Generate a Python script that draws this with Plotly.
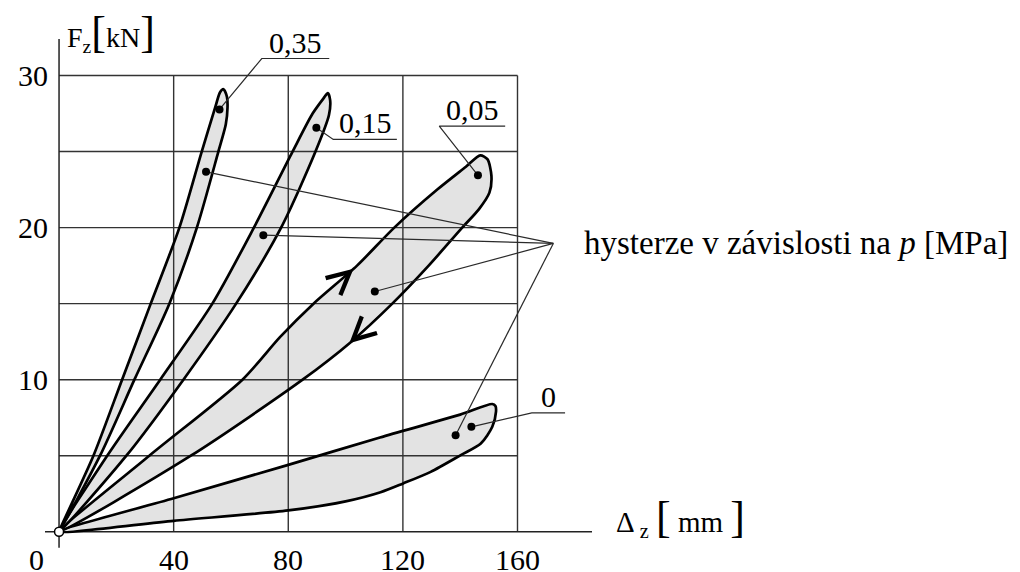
import numpy as np
import plotly.graph_objects as go

# ---------------- data ----------------
# p = 0.35 MPa
p035_load_x = [0, 12.0, 22.0, 32.0, 42.0, 49.8, 54.5, 56.2, 57.4]
p035_load_y = [0, 5, 10, 15, 20, 25, 27.9, 28.9, 29.1]
p035_unload_x = [58.6, 58.8, 58.2, 55.6, 48.1, 38.5, 26.3, 14.3, 0]
p035_unload_y = [28.6, 27.9, 26.8, 25, 20, 15, 10, 5, 0]

# p = 0.15 MPa
p015_load_x = [0, 16.8, 35.3, 53.5, 68.0, 81.5, 88.5, 92.3, 93.8]
p015_load_y = [0, 5, 10, 15, 20, 25, 27.5, 28.5, 28.85]
p015_unload_x = [94.6, 94.2, 89.5, 77.5, 61.8, 43.4, 23.5, 0]
p015_unload_y = [28.4, 27.4, 25, 20, 15, 10, 5, 0]

# p = 0.05 MPa
p005_load_x = [0, 31.5, 64.0, 77.1, 88.8, 104.0, 117.0, 132.0, 142.0, 147.0]
p005_load_y = [0, 5, 10, 12.8, 15, 17.5, 20, 22.5, 24.0, 24.75]
p005_unload_x = [149.5, 150.9, 150.2, 146.5, 140.7, 129.0, 116.3, 102.0, 85.0, 46.0, 0]
p005_unload_y = [24.5, 23.4, 22.3, 21.2, 20, 17.5, 15, 12.5, 10, 5, 0]

# p = 0 MPa
p0_load_x = [0, 40, 80, 112, 140, 151.2]
p0_load_y = [0, 2.2, 4.4, 6.2, 7.7, 8.4]
p0_unload_x = [152.3, 152.5, 151.2, 147.2, 140.2, 129.7, 120.1, 112.2, 100, 80, 40, 0]
p0_unload_y = [8.27, 7.9, 6.9, 5.8, 5.04, 3.94, 3.18, 2.6, 2.0, 1.4, 0.72, 0]

# marked points on the loops
dot_x = [56.0, 51.3, 89.8, 71.3, 146.2, 110.2, 143.9, 138.4]
dot_y = [27.77, 23.67, 26.57, 19.5, 23.44, 15.8, 6.9, 6.35]

# pressure labels (leader from dot -> elbow -> underline end)
label_text = ["0,35", "0,15", "0,05", "0"]
label_dot = [0, 2, 4, 6]
label_elbow_x = [70.75, 95.7, 132.7, 165.0]
label_elbow_y = [31.12, 25.8, 26.67, 7.82]
label_end_x = [94.3, 117.9, 155.7, 176.6]

# common note with leaders to one dot of each loop
note_text = "hysterze v závislosti na <i>p</i> [MPa]"
note_x, note_y = 172.5, 18.96
note_dots = [1, 3, 5, 7]

# arrows showing the loading direction on the 0.05 loop (y level of arrow tail / tip)
arrow_load_y = (15.0, 17.3)
arrow_unload_y = (15.0, 12.4)

# axes
x_ticks = [40, 80, 120, 160]
y_ticks = [10, 20, 30]
y_grid = [5, 10, 15, 20, 25, 30]
x_grid = [40, 80, 120, 160]
XMAX_GRID, YMAX_GRID = 160, 30
XLIM = [-4.9, 186]
YLIM = [-1.2, 32.6]

FONT = "Liberation Serif"
FILL = "#e3e3e3"
SMOOTH = 0.75

fig = go.Figure()

loops = [
    (p0_load_x, p0_load_y, p0_unload_x, p0_unload_y),
    (p005_load_x, p005_load_y, p005_unload_x, p005_unload_y),
    (p015_load_x, p015_load_y, p015_unload_x, p015_unload_y),
    (p035_load_x, p035_load_y, p035_unload_x, p035_unload_y),
]

# fills
for lx, ly, ux, uy in loops:
    fig.add_trace(go.Scatter(x=lx + ux, y=ly + uy, mode="lines", fill="toself",
                             fillcolor=FILL, line=dict(width=0, shape="spline", smoothing=SMOOTH),
                             hoverinfo="skip", showlegend=False))

# grid
gx, gy = [], []
for v in x_grid:
    gx += [v, v, None]
    gy += [0, YMAX_GRID, None]
for v in y_grid:
    gx += [0, XMAX_GRID, None]
    gy += [v, v, None]
fig.add_trace(go.Scatter(x=gx, y=gy, mode="lines", line=dict(color="#333", width=1.4),
                         hoverinfo="skip", showlegend=False))

# axis lines
fig.add_trace(go.Scatter(x=[XLIM[0], XLIM[1], None, 0, 0],
                         y=[0, 0, None, YLIM[0] + 0.15, YLIM[1] - 0.2],
                         mode="lines", line=dict(color="#222", width=1.5),
                         hoverinfo="skip", showlegend=False))

# outlines
for lx, ly, ux, uy in loops:
    fig.add_trace(go.Scatter(x=lx + ux, y=ly + uy, mode="lines",
                             line=dict(color="black", width=2.7, shape="spline", smoothing=SMOOTH),
                             hoverinfo="skip", showlegend=False))

# leaders to note
lx_, ly_ = [], []
for i in note_dots:
    lx_ += [dot_x[i], note_x, None]
    ly_ += [dot_y[i], note_y, None]
# label leaders + underlines
for t, d, ex, ey, endx in zip(label_text, label_dot, label_elbow_x, label_elbow_y, label_end_x):
    lx_ += [dot_x[d], ex, endx, None]
    ly_ += [dot_y[d], ey, ey, None]
fig.add_trace(go.Scatter(x=lx_, y=ly_, mode="lines", line=dict(color="#2a2a2a", width=1.2),
                         hoverinfo="skip", showlegend=False))

# dots
fig.add_trace(go.Scatter(x=dot_x, y=dot_y, mode="markers",
                         marker=dict(color="black", size=8), hoverinfo="skip", showlegend=False))
# origin
fig.add_trace(go.Scatter(x=[0], y=[0], mode="markers",
                         marker=dict(color="white", size=9, line=dict(color="black", width=1.5)),
                         hoverinfo="skip", showlegend=False))

ann = []
# labels above underlines
for t, ex, ey, endx in zip(label_text, label_elbow_x, label_elbow_y, label_end_x):
    ann.append(dict(x=(ex + endx) / 2, y=ey, text=t, showarrow=False, yanchor="bottom",
                    yshift=-2, font=dict(family=FONT, size=30, color="black")))
# note
ann.append(dict(x=note_x, y=note_y, text=note_text, showarrow=False, xanchor="left",
                yanchor="middle", xshift=29, font=dict(family=FONT, size=33, color="black")))
# tick labels
for v in x_ticks:
    ann.append(dict(x=v, y=0, text=str(v), showarrow=False, yanchor="middle", yshift=-27,
                    height=24, font=dict(family=FONT, size=30, color="black")))
for v in y_ticks:
    ann.append(dict(x=0, y=v, text=str(v), showarrow=False, xanchor="right", xshift=-9,
                    font=dict(family=FONT, size=30, color="black")))
ann.append(dict(x=0, y=0, text="0", showarrow=False, xshift=-23, yanchor="middle", yshift=-27,
                height=24, font=dict(family=FONT, size=30, color="black")))
# axis titles
ann.append(dict(x=0, y=YLIM[1], text="F<sub>z</sub><span style='font-size:44px'>[</span>kN<span style='font-size:44px'>]</span>",
                showarrow=False, xanchor="left", yanchor="middle", xshift=6, yshift=4,
                font=dict(family=FONT, size=28, color="black")))
ann.append(dict(x=XLIM[1], y=0, text="Δ<sub> z</sub> <span style='font-size:44px'>[</span> mm <span style='font-size:44px'>]</span>",
                showarrow=False, xanchor="left", yanchor="middle", xshift=22, yshift=14,
                font=dict(family=FONT, size=29, color="black")))

# direction arrows on 0.05 loop
def on_curve(xs, ys, yv):
    ys_a, xs_a = np.array(ys, float), np.array(xs, float)
    order = np.argsort(ys_a)
    return float(np.interp(yv, ys_a[order], xs_a[order]))

for (xs, ys, (y0, y1)) in [(p005_load_x, p005_load_y, arrow_load_y),
                           (p005_unload_x[4:], p005_unload_y[4:], arrow_unload_y)]:
    ann.append(dict(x=on_curve(xs, ys, y1), y=y1, ax=on_curve(xs, ys, y0), ay=y0,
                    axref="x", ayref="y", xref="x", yref="y", text="", showarrow=True,
                    arrowhead=5, arrowsize=4.4, arrowwidth=1.0, arrowcolor="black"))

# the page body has an 8px margin: size and margins compensate for it
fig.update_layout(
    width=1012, height=564,
    margin=dict(l=37, r=428, t=28, b=22),
    paper_bgcolor="white", plot_bgcolor="white",
    xaxis=dict(range=XLIM, visible=False, fixedrange=True),
    yaxis=dict(range=YLIM, visible=False, fixedrange=True),
    annotations=ann,
    showlegend=False,
)

fig.write_html("out.html")
